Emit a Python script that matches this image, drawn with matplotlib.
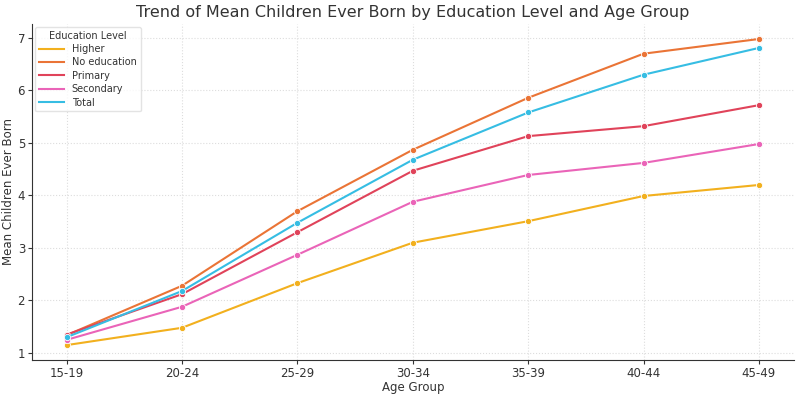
import matplotlib
matplotlib.use("Agg")
import matplotlib.pyplot as plt

age_groups = ["15-19", "20-24", "25-29", "30-34", "35-39", "40-44", "45-49"]
higher = [1.15, 1.48, 2.33, 3.10, 3.51, 3.99, 4.20]
no_education = [1.34, 2.28, 3.70, 4.87, 5.86, 6.70, 6.98]
primary = [1.35, 2.12, 3.30, 4.47, 5.13, 5.32, 5.72]
secondary = [1.25, 1.88, 2.87, 3.88, 4.39, 4.62, 4.98]
total = [1.30, 2.18, 3.48, 4.68, 5.58, 6.30, 6.81]

series = [("Higher", higher, "#f2b01e"),
          ("No education", no_education, "#ea7436"),
          ("Primary", primary, "#e0435a"),
          ("Secondary", secondary, "#ea64b8"),
          ("Total", total, "#36bde3")]

fig, ax = plt.subplots(figsize=(8, 3.96), dpi=100)
fig.subplots_adjust(left=0.04, right=0.992, top=0.94, bottom=0.091)
x = range(len(age_groups))
for name, vals, c in series:
    ax.plot(x, vals, color=c, lw=1.5, marker="o", ms=4.5, mec="white", mew=0.6, label=name)

ax.set_xticks(list(x))
ax.set_xticklabels(age_groups)
ax.set_xlim(-0.3, 6.3)
ax.set_ylim(0.867, 7.27)
ax.set_yticks([1, 2, 3, 4, 5, 6, 7])
ax.grid(True, color="#dddddd", linestyle=":", linewidth=0.8)
for s in ["top", "right"]:
    ax.spines[s].set_visible(False)
for s in ["left", "bottom"]:
    ax.spines[s].set_color("#333333")
ax.tick_params(labelsize=8.5, colors="#333333", length=3, pad=2)
ax.set_xlabel("Age Group", fontsize=8.5, color="#333333", labelpad=1)
ax.set_ylabel("Mean Children Ever Born", fontsize=8.5, color="#333333", labelpad=2)
ax.set_title("Trend of Mean Children Ever Born by Education Level and Age Group", fontsize=11.5, color="#333333", pad=5)
leg = ax.legend(title="Education Level", fontsize=7, title_fontsize=7, loc="upper left",
                frameon=True, handlelength=2.6, borderaxespad=0.3, labelspacing=0.35)
for h in leg.legend_handles:
    h.set_marker("")
leg.get_frame().set_edgecolor("#dddddd")
for t in leg.get_texts():
    t.set_color("#333333")
leg.get_title().set_color("#333333")
fig.savefig("out.png", dpi=100)
